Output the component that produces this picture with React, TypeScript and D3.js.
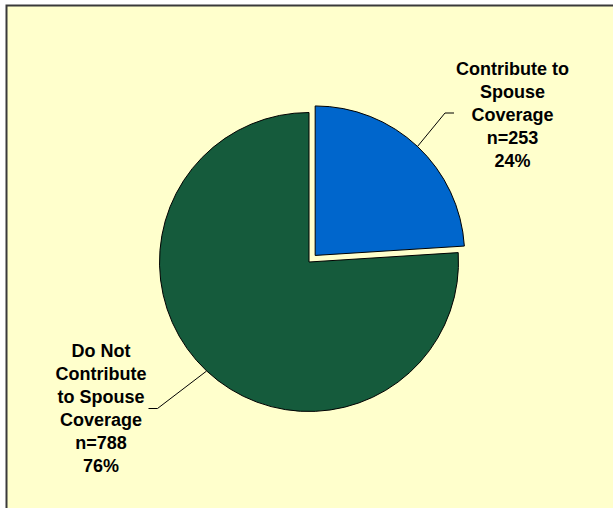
import React from "react";
import * as d3 from "d3";

const categories = ["Contribute to Spouse Coverage", "Do Not Contribute to Spouse Coverage"];
const counts = [253, 788];
const percents = [24, 76];
const labelLines = [
  ["Contribute to", "Spouse", "Coverage"],
  ["Do Not", "Contribute", "to Spouse", "Coverage"],
];
const colors = ["#0066CC", "#155B3C"];

const W = 613;
const H = 508;
const cx = 309;
const cy = 262;
const R = 149.5;
const explode = [9, 0];
// label layout: center x, first baseline, elbow and end of leader
const labelLayout = [
  { x: 512.5, y: 74.5, elbow: [445, 113], end: [454, 113] },
  { x: 101, y: 357, elbow: [157.5, 408.5], end: [148.5, 408.5] },
];
const lineH = 23;

export default function App() {
  const pie = d3.pie<number>().sort(null).startAngle(0).endAngle(2 * Math.PI);
  const arcs = pie(percents);
  const arc = d3.arc<d3.PieArcDatum<number>>().innerRadius(0).outerRadius(R);

  return (
    <svg
      width={W}
      height={H}
      style={{ position: "absolute", left: 0, top: 0, background: "#ffffff" }}
      fontFamily="'Liberation Sans', Arial, sans-serif"
    >
      <rect x={6.5} y={5.5} width={W + 20} height={H + 20} fill="#FFFFCC" stroke="#3a3a3a" strokeWidth={2} />
      {arcs.map((a, i) => {
        const mid = (a.startAngle + a.endAngle) / 2;
        const ox = explode[i] * Math.sin(mid);
        const oy = -explode[i] * Math.cos(mid);
        const sx = cx + ox + R * Math.sin(mid);
        const sy = cy + oy - R * Math.cos(mid);
        const L = labelLayout[i];
        const lines = [...labelLines[i], `n=${counts[i]}`, `${percents[i]}%`];
        return (
          <g key={categories[i]}>
            <path
              d={arc(a) || ""}
              transform={`translate(${cx + ox},${cy + oy})`}
              fill={colors[i]}
              stroke="#000"
              strokeWidth={1}
            />
            <polyline
              points={`${sx},${sy} ${L.elbow[0]},${L.elbow[1]} ${L.end[0]},${L.end[1]}`}
              fill="none"
              stroke="#000"
              strokeWidth={1}
            />
            <text textAnchor="middle" fontWeight="bold" fontSize={18} fill="#000">
              {lines.map((t, j) => (
                <tspan key={j} x={L.x} y={L.y + j * lineH}>
                  {t}
                </tspan>
              ))}
            </text>
          </g>
        );
      })}
    </svg>
  );
}
